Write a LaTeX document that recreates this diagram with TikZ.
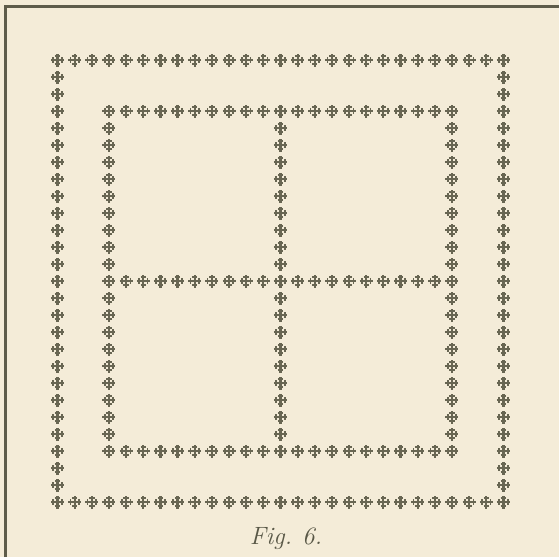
\documentclass[tikz,border=0pt]{standalone}
\usepackage{tikz}
\definecolor{paper}{RGB}{244,236,216}
\definecolor{ink}{RGB}{104,102,82}
\tikzset{
  pics/crux/.style={code={
    \draw[ink,line width=2.2pt] (-6.5pt,0) -- (6.5pt,0) (0,-6.5pt) -- (0,6.5pt);
    \draw[ink,line width=1.7pt] (-4.3pt,-2.7pt) -- (-4.3pt,2.7pt) (4.3pt,-2.7pt) -- (4.3pt,2.7pt)
      (-2.7pt,-4.3pt) -- (2.7pt,-4.3pt) (-2.7pt,4.3pt) -- (2.7pt,4.3pt);
  }},
  rule/.style={draw=ink!90!black,line width=3pt},
  figlabel/.style={text=ink!85!black,anchor=base,font=\fontsize{25}{30}\selectfont\itshape}
}
\begin{document}
\begin{tikzpicture}[x=1pt,y=-1pt]
\fill[paper] (0,0) rectangle (559,557);
\useasboundingbox (0,0) rectangle (559,557);
\draw[rule] (5.8,557) -- (5.8,6.5) -- (559,6.5);
\begin{scope}[shift={(57.5,60)},x=17.15pt,y=-17pt]
\foreach \k in {0,...,26} {
  \pic at (\k,0) {crux};
  \pic at (\k,26) {crux};
  \pic at (0,\k) {crux};
  \pic at (26,\k) {crux};
}
\foreach \k in {3,...,23} {
  \pic at (\k,3) {crux};
  \pic at (\k,13) {crux};
  \pic at (\k,23) {crux};
  \pic at (3,\k) {crux};
  \pic at (13,\k) {crux};
  \pic at (23,\k) {crux};
}
\end{scope}
\node[figlabel] (caption) at (286,544.3) {Fig.\hspace{0.4em}6.};
\end{tikzpicture}
\end{document}
